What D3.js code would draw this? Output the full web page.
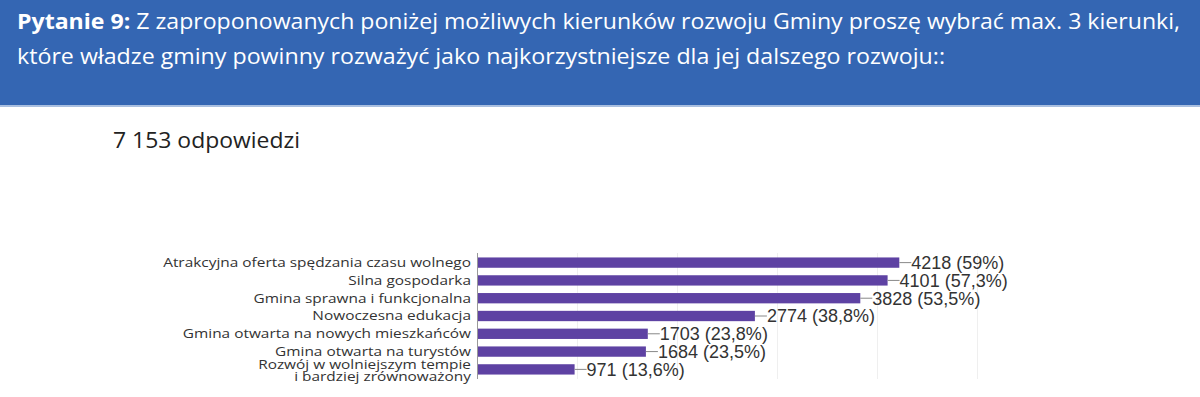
<!DOCTYPE html>
<html>
<head>
<meta charset="utf-8">
<script src="https://cdn.jsdelivr.net/npm/d3@7"></script>
<style>
  html, body { margin: 0; padding: 0; background: #fff; }
  svg { display: block; }
</style>
</head>
<body>
<div id="chart"></div>
<script>
// Data
const categories = [
    ["Atrakcyjna oferta spędzania czasu wolnego"],
    ["Silna gospodarka"],
    ["Gmina sprawna i funkcjonalna"],
    ["Nowoczesna edukacja"],
    ["Gmina otwarta na nowych mieszkańców"],
    ["Gmina otwarta na turystów"],
    ["Rozwój w wolniejszym tempie", "i bardziej zrównoważony"]
];
const counts = [4218, 4101, 3828, 2774, 1703, 1684, 971];
const percents = ["59%", "57,3%", "53,5%", "38,8%", "23,8%", "23,5%", "13,6%"];
const gridTicks = [1000, 2000, 3000, 4000, 5000];

const titleBold = "Pytanie 9:";
const titleLine1 = " Z zaproponowanych poniżej możliwych kierunków rozwoju Gminy proszę wybrać max. 3 kierunki,";
const titleLine2 = "które władze gminy powinny rozważyć jako najkorzystniejsze dla jej dalszego rozwoju::";
const responses = "7 153 odpowiedzi";

// Configuration
const WIDTH = 1200;
const HEIGHT = 397;
const LABEL_X = 471;

const svg = d3.select("#chart")
    .append("svg")
    .attr("width", WIDTH)
    .attr("height", HEIGHT);

// Header band
svg.append("rect")
    .attr("x", 0).attr("y", 0)
    .attr("width", WIDTH).attr("height", 105)
    .attr("fill", "#3466b3");
svg.append("rect")
    .attr("x", 0).attr("y", 105)
    .attr("width", WIDTH).attr("height", 2)
    .attr("fill", "#a9bfe0");

const title1 = svg.append("text")
    .attr("x", 17).attr("y", 29)
    .attr("font-family", "Open Sans, sans-serif")
    .attr("font-size", 21)
    .attr("fill", "#fff")
    .attr("textLength", 1163)
    .attr("lengthAdjust", "spacingAndGlyphs");
title1.append("tspan").attr("font-weight", "bold").text(titleBold);
title1.append("tspan").text(titleLine1);

svg.append("text")
    .attr("x", 17).attr("y", 64)
    .attr("font-family", "Open Sans, sans-serif")
    .attr("font-size", 21)
    .attr("fill", "#fff")
    .attr("textLength", 928)
    .attr("lengthAdjust", "spacingAndGlyphs")
    .text(titleLine2);

svg.append("text")
    .attr("x", 113).attr("y", 148)
    .attr("font-family", "Open Sans, sans-serif")
    .attr("font-size", 22)
    .attr("fill", "#222")
    .attr("textLength", 187)
    .attr("lengthAdjust", "spacingAndGlyphs")
    .text(responses);

// Scales
const x = d3.scaleLinear()
    .domain([0, 5000])
    .range([477.5, 977.5]);

const y = d3.scaleBand()
    .domain(d3.range(counts.length))
    .range([253, 379])
    .paddingInner(0.42)
    .paddingOuter(0.25);

// Gridlines
svg.append("g")
    .selectAll("line")
    .data(gridTicks)
    .join("line")
    .attr("x1", d => x(d)).attr("x2", d => x(d))
    .attr("y1", 253).attr("y2", 379)
    .attr("stroke", "#efefef")
    .attr("stroke-width", 1);

// Bars
svg.append("g")
    .selectAll("rect")
    .data(counts)
    .join("rect")
    .attr("x", x(0))
    .attr("y", (d, i) => y(i))
    .attr("width", d => x(d) - x(0))
    .attr("height", y.bandwidth())
    .attr("fill", "#5e42a3");

// Axis line
svg.append("line")
    .attr("x1", x(0)).attr("x2", x(0))
    .attr("y1", 253).attr("y2", 379)
    .attr("stroke", "#999")
    .attr("stroke-width", 1);

// Category labels (stretched horizontally like the reference)
const labels = svg.append("g")
    .attr("transform", `translate(${LABEL_X},0) scale(1.185,1)`)
    .selectAll("text")
    .data(categories)
    .join("text")
    .attr("x", 0)
    .attr("y", (d, i) => y(i) + y.bandwidth() / 2)
    .attr("text-anchor", "end")
    .attr("font-family", "Open Sans, sans-serif")
    .attr("font-size", 13)
    .attr("fill", "#333");

labels.selectAll("tspan")
    .data(d => d.map((t, k) => ({ t, k, n: d.length })))
    .join("tspan")
    .attr("x", 0)
    .attr("dy", d => d.n === 1 ? "0.34em" : (d.k === 0 ? "0em" : "0.92em"))
    .text(d => d.t);

// Value labels with leader lines
const vals = svg.append("g")
    .selectAll("g")
    .data(counts)
    .join("g")
    .attr("transform", (d, i) => `translate(${x(d)},${y(i) + y.bandwidth() / 2})`);

vals.append("line")
    .attr("x1", 0).attr("x2", 12)
    .attr("y1", 0).attr("y2", 0)
    .attr("stroke", "#888")
    .attr("stroke-width", 1);

vals.append("text")
    .attr("x", 12)
    .attr("dy", "0.36em")
    .attr("font-family", "Liberation Sans, Arial, sans-serif")
    .attr("font-size", 18)
    .attr("fill", "#333")
    .text((d, i) => `${d} (${percents[i]})`);
</script>
</body>
</html>
